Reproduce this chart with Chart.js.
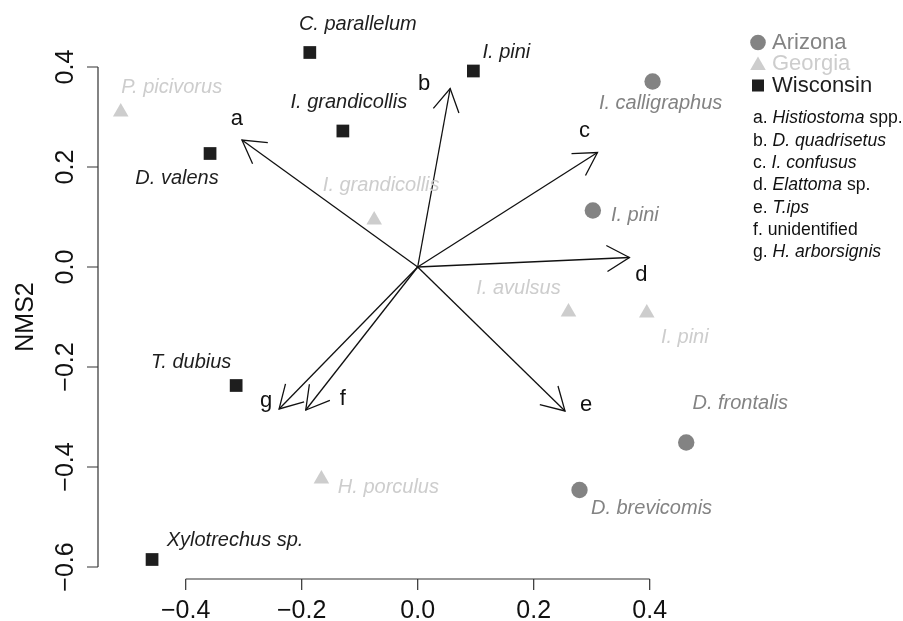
<!DOCTYPE html>
<html>
<head>
<meta charset="utf-8">
<script src="https://cdn.jsdelivr.net/npm/chart.js@4/dist/chart.umd.min.js"></script>
<style>
  html, body { margin: 0; padding: 0; background: #fff; }
  #wrap { width: 903px; height: 621px; }
</style>
</head>
<body>
<div id="wrap"><canvas id="nms" width="903" height="621"></canvas></div>
<script>
// --- data ---
const groupNames = ['Arizona', 'Georgia', 'Wisconsin'];

const azNames = ['I. calligraphus', 'I. pini', 'D. frontalis', 'D. brevicomis'];
const azX = [0.405, 0.302, 0.463, 0.279];
const azY = [0.371, 0.113, -0.351, -0.446];

const gaNames = ['P. picivorus', 'I. grandicollis', 'H. porculus', 'I. avulsus', 'I. pini'];
const gaX = [-0.512, -0.075, -0.166, 0.260, 0.395];
const gaY = [0.310, 0.094, -0.424, -0.090, -0.092];

const wiNames = ['C. parallelum', 'I. grandicollis', 'D. valens', 'I. pini', 'T. dubius', 'Xylotrechus sp.'];
const wiX = [-0.186, -0.129, -0.358, 0.096, -0.313, -0.458];
const wiY = [0.429, 0.272, 0.227, 0.392, -0.237, -0.585];

// fitted species vectors
const vecLetters = ['a', 'b', 'c', 'd', 'e', 'f', 'g'];
const vecX = [-0.303, 0.056, 0.310, 0.365, 0.254, -0.193, -0.239];
const vecY = [0.254, 0.357, 0.229, 0.019, -0.288, -0.286, -0.284];
// legend text for vectors: [plain prefix, italic name, plain suffix]
const vecNames = [
  ['a. ', 'Histiostoma', ' spp.'],
  ['b. ', 'D. quadrisetus', ''],
  ['c. ', 'I. confusus', ''],
  ['d. ', 'Elattoma', ' sp.'],
  ['e. ', 'T.ips', ''],
  ['f. unidentified', '', ''],
  ['g. ', 'H. arborsignis', '']
];

const xTicks = [-0.4, -0.2, 0.0, 0.2, 0.4];
const yTicks = [-0.6, -0.4, -0.2, 0.0, 0.2, 0.4];
const yTitle = 'NMS2';

// label placement (pixel nudges from the marker / arrow tip)
const azLabelOff = [[8, 22], [42, 5], [54, -39], [72, 18]];
const gaLabelOff = [[51, -25], [7, -35], [67, 8], [-50, -24], [38, 24]];
const wiLabelOff = [[48, -28], [6, -29], [-33, 25], [33, -19], [-45, -23], [83, -19]];
const vecLabelOff = [[-5, -15], [-26, 1], [-13, -16], [12, 23], [21, 0], [37, -5], [-13, -2]];

const FONT = '"Liberation Sans", Arial, Helvetica, sans-serif';
const COL_AZ = '#838383';
const COL_GA = '#cdcdcd';
const COL_WI = '#1e1e1e';

const toPts = (xs, ys) => xs.map((v, i) => ({ x: v, y: ys[i] }));

const arrowSets = vecX.map((vx, i) => ({
  label: 'vec-' + vecLetters[i],
  data: [{ x: 0, y: 0 }, { x: vx, y: vecY[i] }],
  showLine: true,
  borderColor: '#111',
  borderWidth: 1.3,
  pointRadius: 0,
  clip: false
}));

function drawMarker(ctx, style, x, y, r) {
  ctx.beginPath();
  if (style === 'circle') {
    ctx.arc(x, y, r, 0, Math.PI * 2);
  } else if (style === 'triangle') {
    let rad = 0;
    ctx.moveTo(x + Math.sin(rad) * r, y - Math.cos(rad) * r);
    rad += 2 * Math.PI / 3;
    ctx.lineTo(x + Math.sin(rad) * r, y - Math.cos(rad) * r);
    rad += 2 * Math.PI / 3;
    ctx.lineTo(x + Math.sin(rad) * r, y - Math.cos(rad) * r);
    ctx.closePath();
  } else {
    const s = Math.SQRT1_2 * r;
    ctx.rect(x - s, y - s, 2 * s, 2 * s);
  }
  ctx.fill();
}

const rStyle = {
  id: 'rStyle',
  afterDatasetsDraw(chart) {
    const { ctx, chartArea } = chart;
    const xs = chart.scales.x, ys = chart.scales.y;
    ctx.save();

    // arrowheads
    const ox = xs.getPixelForValue(0), oy = ys.getPixelForValue(0);
    ctx.strokeStyle = '#111';
    ctx.lineWidth = 1.3;
    const L = 26, half = Math.PI / 6;
    vecX.forEach((vx, i) => {
      const tx = xs.getPixelForValue(vx), ty = ys.getPixelForValue(vecY[i]);
      const ang = Math.atan2(ty - oy, tx - ox);
      ctx.beginPath();
      ctx.moveTo(tx - L * Math.cos(ang - half), ty - L * Math.sin(ang - half));
      ctx.lineTo(tx, ty);
      ctx.lineTo(tx - L * Math.cos(ang + half), ty - L * Math.sin(ang + half));
      ctx.stroke();
      ctx.fillStyle = '#111';
      ctx.font = '22px ' + FONT;
      ctx.textAlign = 'center';
      ctx.textBaseline = 'alphabetic';
      ctx.fillText(vecLetters[i], tx + vecLabelOff[i][0], ty + vecLabelOff[i][1]);
    });

    // point labels
    ctx.font = 'italic 20px ' + FONT;
    ctx.textAlign = 'center';
    ctx.textBaseline = 'middle';
    const groups = [
      [azNames, azX, azY, azLabelOff, COL_AZ],
      [gaNames, gaX, gaY, gaLabelOff, COL_GA],
      [wiNames, wiX, wiY, wiLabelOff, COL_WI]
    ];
    groups.forEach(([names, gx, gy, off, col]) => {
      ctx.fillStyle = col;
      names.forEach((n, i) => {
        ctx.fillText(n, xs.getPixelForValue(gx[i]) + off[i][0], ys.getPixelForValue(gy[i]) + off[i][1]);
      });
    });

    // R-style axes
    ctx.strokeStyle = '#333';
    ctx.lineWidth = 1.2;
    ctx.fillStyle = '#111';
    ctx.font = '25px ' + FONT;
    const axY = chartArea.bottom;
    ctx.beginPath();
    ctx.moveTo(xs.getPixelForValue(xTicks[0]), axY);
    ctx.lineTo(xs.getPixelForValue(xTicks[xTicks.length - 1]), axY);
    xTicks.forEach(t => {
      const px = xs.getPixelForValue(t);
      ctx.moveTo(px, axY);
      ctx.lineTo(px, axY + 11);
    });
    ctx.stroke();
    ctx.textAlign = 'center';
    ctx.textBaseline = 'alphabetic';
    xTicks.forEach(t => {
      ctx.fillText(t.toFixed(1).replace('-', '\u2212'), xs.getPixelForValue(t), axY + 39);
    });

    const axX = chartArea.left;
    ctx.beginPath();
    ctx.moveTo(axX, ys.getPixelForValue(yTicks[0]));
    ctx.lineTo(axX, ys.getPixelForValue(yTicks[yTicks.length - 1]));
    yTicks.forEach(t => {
      const py = ys.getPixelForValue(t);
      ctx.moveTo(axX, py);
      ctx.lineTo(axX - 11, py);
    });
    ctx.stroke();
    yTicks.forEach(t => {
      ctx.save();
      ctx.translate(axX - 25, ys.getPixelForValue(t));
      ctx.rotate(-Math.PI / 2);
      ctx.fillText(t.toFixed(1).replace('-', '\u2212'), 0, 0);
      ctx.restore();
    });
    ctx.save();
    ctx.translate(33, ys.getPixelForValue(-0.1));
    ctx.rotate(-Math.PI / 2);
    ctx.fillText(yTitle, 0, 0);
    ctx.restore();

    // legend: groups
    const legX = 758, legTextX = 772;
    const legRows = [42.5, 63.5, 85.5];
    const legStyles = [['circle', 7.8, COL_AZ], ['triangle', 9, COL_GA], ['rect', 8.5, COL_WI]];
    ctx.font = '22px ' + FONT;
    ctx.textAlign = 'left';
    ctx.textBaseline = 'middle';
    groupNames.forEach((g, i) => {
      const [st, r, col] = legStyles[i];
      ctx.fillStyle = col;
      drawMarker(ctx, st, legX, legRows[i] + (st === 'triangle' ? 2 : 0), r);
      ctx.fillText(g, legTextX, legRows[i]);
    });

    // legend: vectors
    const vx0 = 753, vy0 = 118.5, vStep = 22.3;
    ctx.fillStyle = '#111';
    vecNames.forEach((parts, i) => {
      let cx = vx0;
      const cy = vy0 + i * vStep;
      parts.forEach((p, k) => {
        if (!p) return;
        ctx.font = (k === 1 ? 'italic ' : '') + '17.6px ' + FONT;
        ctx.fillText(p, cx, cy);
        cx += ctx.measureText(p).width;
      });
    });

    ctx.restore();
  }
};

new Chart(document.getElementById('nms'), {
  type: 'scatter',
  data: {
    datasets: [
      ...arrowSets,
      {
        label: groupNames[0],
        data: toPts(azX, azY),
        pointStyle: 'circle',
        pointRadius: 8.2,
        backgroundColor: COL_AZ,
        borderWidth: 0,
        clip: false
      },
      {
        label: groupNames[1],
        data: toPts(gaX, gaY),
        pointStyle: 'triangle',
        pointRadius: 9,
        backgroundColor: COL_GA,
        borderWidth: 0,
        clip: false
      },
      {
        label: groupNames[2],
        data: toPts(wiX, wiY),
        pointStyle: 'rect',
        pointRadius: 9,
        backgroundColor: COL_WI,
        borderWidth: 0,
        clip: false
      }
    ]
  },
  options: {
    responsive: false,
    animation: false,
    devicePixelRatio: 1,
    events: [],
    layout: { padding: { left: 98, right: 143, top: 20, bottom: 42 } },
    scales: {
      x: { type: 'linear', min: -0.5512, max: 0.5902, display: false },
      y: { type: 'linear', min: -0.624, max: 0.494, display: false }
    },
    plugins: {
      legend: { display: false },
      tooltip: { enabled: false }
    }
  },
  plugins: [rStyle]
});
</script>
</body>
</html>
